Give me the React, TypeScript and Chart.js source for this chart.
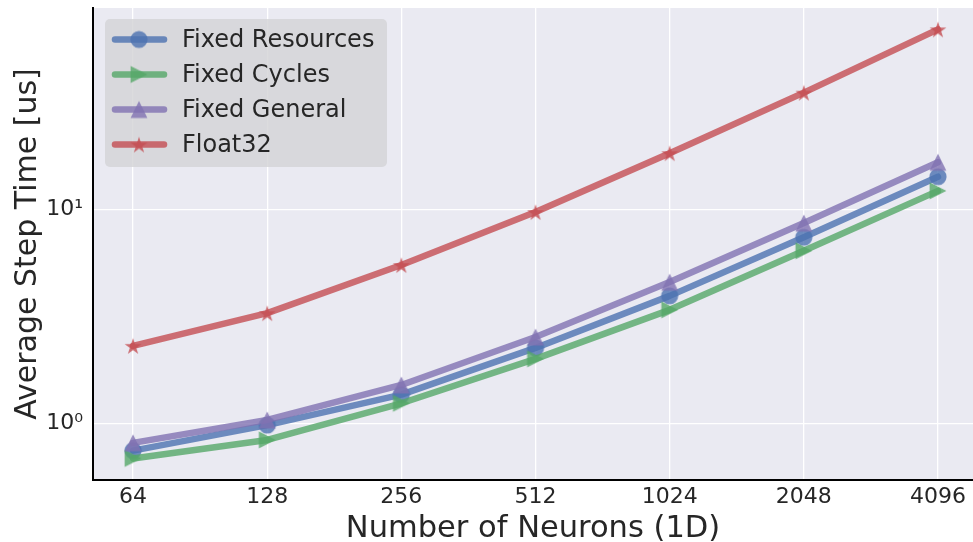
import React, { useEffect, useRef } from 'react';
import { Chart, registerables } from 'chart.js';

Chart.register(...registerables);

// ---- data ----
const neurons = ['64', '128', '256', '512', '1024', '2048', '4096'];
const fixedResources = [0.745, 0.98, 1.36, 2.25, 3.94, 7.4, 14.2];
const fixedCycles = [0.685, 0.836, 1.24, 2.0, 3.39, 6.4, 12.2];
const fixedGeneral = [0.81, 1.036, 1.51, 2.53, 4.57, 8.63, 16.6];
const float32 = [2.3, 3.27, 5.49, 9.71, 18.3, 35.1, 69.4];
const seriesNames = ['Fixed Resources', 'Fixed Cycles', 'Fixed General', 'Float32'];
const seriesValues = [fixedResources, fixedCycles, fixedGeneral, float32];
const seriesColors = ['#4C72B0', '#55A868', '#8172B2', '#C44E52'];
const seriesMarkers = ['circle', 'triangleRight', 'triangleUp', 'star'];
const yTickValues = [1, 10];
const yTickLabels = ['10⁰', '10¹'];
const xTitle = 'Number of Neurons (1D)';
const yTitle = 'Average Step Time [us]';

const FONT = "'DejaVu Sans', sans-serif";
const TEXT = '#262626';
const ALPHA = 0.8;

function rgba(hex: string, a: number) {
  const n = parseInt(hex.slice(1), 16);
  return `rgba(${(n >> 16) & 255},${(n >> 8) & 255},${n & 255},${a})`;
}

function makeMarker(kind: string, color: string): HTMLCanvasElement {
  const c = document.createElement('canvas');
  const s = 22;
  c.width = s;
  c.height = s;
  const ctx = c.getContext('2d')!;
  ctx.fillStyle = rgba(color, ALPHA);
  const m = s / 2;
  ctx.beginPath();
  if (kind === 'circle') {
    ctx.arc(m, m, 8.6, 0, Math.PI * 2);
  } else if (kind === 'triangleUp') {
    const r = 8.4;
    ctx.moveTo(m, m - r);
    ctx.lineTo(m + r, m + r);
    ctx.lineTo(m - r, m + r);
    ctx.closePath();
  } else if (kind === 'triangleRight') {
    const r = 8.4;
    ctx.moveTo(m + r, m);
    ctx.lineTo(m - r, m + r);
    ctx.lineTo(m - r, m - r);
    ctx.closePath();
  } else {
    const R = 8.8;
    const r = R * 0.381966;
    for (let i = 0; i < 10; i++) {
      const rad = i % 2 === 0 ? R : r;
      const ang = -Math.PI / 2 + (i * Math.PI) / 5;
      const px = m + rad * Math.cos(ang);
      const py = m + 1 + rad * Math.sin(ang);
      if (i === 0) ctx.moveTo(px, py);
      else ctx.lineTo(px, py);
    }
    ctx.closePath();
  }
  ctx.fill();
  return c;
}

export default function App() {
  const ref = useRef<HTMLCanvasElement | null>(null);

  useEffect(() => {
    const canvas = ref.current;
    if (!canvas) return;
    const markers = seriesMarkers.map((k, i) => makeMarker(k, seriesColors[i]));

    const bgPlugin = {
      id: 'bgPlugin',
      beforeDraw(chart: any) {
        const { ctx, chartArea } = chart;
        ctx.save();
        ctx.fillStyle = '#EAEAF2';
        ctx.fillRect(chartArea.left, chartArea.top, chartArea.right - chartArea.left, chartArea.bottom - chartArea.top);
        ctx.restore();
      },
    };

    const legendPlugin = {
      id: 'legendPlugin',
      afterDraw(chart: any) {
        const { ctx, chartArea } = chart;
        const bx = chartArea.left + 12;
        const by = chartArea.top + 11;
        const bw = 282;
        const bh = 148;
        ctx.save();
        ctx.fillStyle = 'rgba(211,211,214,0.8)';
        ctx.beginPath();
        if ((ctx as any).roundRect) (ctx as any).roundRect(bx, by, bw, bh, 5);
        else ctx.rect(bx, by, bw, bh);
        ctx.fill();
        seriesNames.forEach((name, i) => {
          const cy = by + 20.5 + i * 35;
          ctx.strokeStyle = rgba(seriesColors[i], ALPHA);
          ctx.lineWidth = 6.5;
          ctx.lineCap = 'round';
          ctx.beginPath();
          ctx.moveTo(bx + 10, cy);
          ctx.lineTo(bx + 59, cy);
          ctx.stroke();
          const mk = markers[i];
          ctx.drawImage(mk, bx + 34 - mk.width / 2, cy - mk.height / 2);
          ctx.fillStyle = TEXT;
          ctx.font = `24px ${FONT}`;
          ctx.textAlign = 'left';
          ctx.textBaseline = 'middle';
          ctx.fillText(name, bx + 77, cy + 1);
        });
        ctx.restore();
      },
    };

    const chart = new Chart(canvas, {
      type: 'line',
      data: {
        datasets: seriesNames.map((name, i) => ({
          label: name,
          data: seriesValues[i].map((v, j) => ({ x: j, y: v })),
          borderColor: rgba(seriesColors[i], ALPHA),
          backgroundColor: rgba(seriesColors[i], ALPHA),
          borderWidth: 6.5,
          borderJoinStyle: 'round',
          borderCapStyle: 'round',
          pointStyle: markers[i],
          pointRadius: 9,
          pointHoverRadius: 9,
          tension: 0,
          fill: false,
          clip: false,
          order: 3 - i,
        })),
      },
      options: {
        responsive: false,
        animation: false,
        devicePixelRatio: 1,
        events: [],
        layout: { autoPadding: false, padding: { top: 8, right: 0, left: 0, bottom: 0 } },
        plugins: { legend: { display: false }, tooltip: { enabled: false } },
        scales: {
          x: {
            type: 'linear',
            min: -0.2985,
            max: 6.261,
            afterBuildTicks: (s: any) => {
              s.ticks = neurons.map((_, i) => ({ value: i }));
            },
            afterFit: (s: any) => {
              s.height = 62;
              s.paddingLeft = 0;
              s.paddingRight = 0;
            },
            ticks: {
              callback: (v: any) => neurons[Math.round(Number(v))],
              font: { family: FONT, size: 22 },
              color: TEXT,
              padding: 4,
              maxRotation: 0,
              autoSkip: false,
            },
            grid: { color: '#FFFFFF', lineWidth: 1.3, drawTicks: false },
            border: { display: true, color: '#000000', width: 2 },
            title: {
              display: true,
              text: xTitle,
              font: { family: FONT, size: 30.5 },
              color: TEXT,
              padding: { top: 0, bottom: -5 },
            },
          },
          y: {
            type: 'logarithmic',
            min: 0.543,
            max: 87.3,
            afterBuildTicks: (s: any) => {
              s.ticks = yTickValues.map((v) => ({ value: v }));
            },
            afterFit: (s: any) => {
              s.width = 93;
              s.paddingTop = 0;
              s.paddingBottom = 0;
            },
            ticks: {
              callback: (v: any) => {
                const idx = yTickValues.indexOf(Number(v));
                return idx >= 0 ? yTickLabels[idx] : '';
              },
              font: { family: FONT, size: 22 },
              color: TEXT,
              padding: 10,
              autoSkip: false,
            },
            grid: { color: '#FFFFFF', lineWidth: 1.3, drawTicks: false },
            border: { display: true, color: '#000000', width: 2 },
            title: {
              display: true,
              text: yTitle,
              font: { family: FONT, size: 30 },
              color: TEXT,
              padding: { top: 10, bottom: 0 },
            },
          },
        },
      },
      plugins: [bgPlugin, legendPlugin],
    } as any);

    return () => chart.destroy();
  }, []);

  return (
    <div style={{ position: 'fixed', left: 0, top: 0, width: 973, height: 542, background: '#fff' }}>
      <canvas ref={ref} width={973} height={542} style={{ display: 'block' }} />
    </div>
  );
}
